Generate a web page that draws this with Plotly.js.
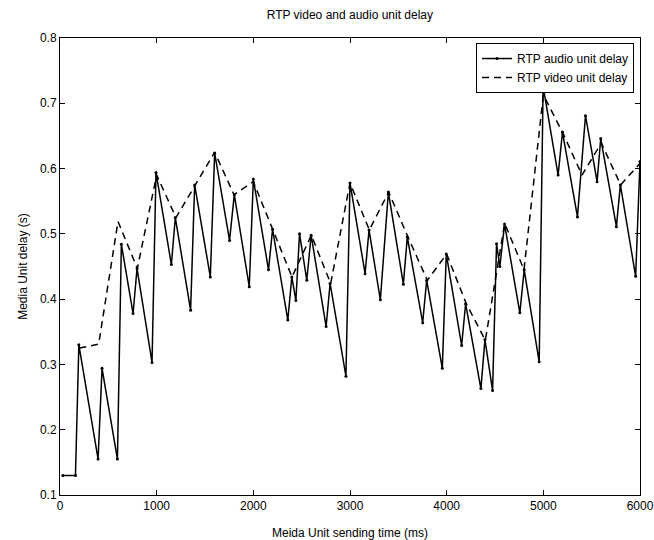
<!DOCTYPE html>
<html>
<head>
<meta charset="utf-8">
<script src="https://cdn.plot.ly/plotly-3.0.1.min.js"></script>
<style>html,body{margin:0;padding:0;background:#fff;}#chart{width:654px;height:540px;}</style>
</head>
<body>
<div id="chart"></div>
<script>
var audioTime = [30, 160, 195, 394, 435, 594, 635, 756, 797, 952, 993, 1152, 1193, 1351, 1393, 1555, 1600, 1754, 1803, 1958, 2000, 2157, 2199, 2357, 2398, 2440, 2478, 2553, 2598, 2753, 2794, 2958, 3000, 3156, 3197, 3314, 3397, 3552, 3593, 3752, 3793, 3955, 3996, 4155, 4196, 4354, 4396, 4475, 4516, 4550, 4599, 4757, 4802, 4957, 4998, 5153, 5198, 5353, 5436, 5556, 5594, 5756, 5797, 5955, 6000];
var audioDelay = [0.13, 0.13, 0.330, 0.155, 0.294, 0.155, 0.484, 0.378, 0.447, 0.303, 0.594, 0.453, 0.525, 0.383, 0.575, 0.434, 0.624, 0.490, 0.560, 0.419, 0.584, 0.445, 0.507, 0.368, 0.434, 0.398, 0.500, 0.429, 0.498, 0.358, 0.424, 0.282, 0.578, 0.439, 0.506, 0.399, 0.564, 0.423, 0.495, 0.364, 0.429, 0.294, 0.469, 0.329, 0.393, 0.263, 0.338, 0.260, 0.485, 0.450, 0.515, 0.379, 0.445, 0.304, 0.726, 0.590, 0.656, 0.526, 0.681, 0.580, 0.646, 0.511, 0.575, 0.435, 0.611];
var videoTime = [200, 400, 600, 800, 1000, 1200, 1400, 1600, 1800, 2000, 2200, 2400, 2600, 2800, 3000, 3200, 3400, 3600, 3800, 4000, 4200, 4400, 4600, 4800, 5000, 5200, 5400, 5600, 5800, 6000];
var videoDelay = [0.325, 0.331, 0.519, 0.447, 0.590, 0.525, 0.575, 0.625, 0.560, 0.580, 0.507, 0.434, 0.498, 0.424, 0.578, 0.506, 0.564, 0.495, 0.429, 0.469, 0.394, 0.337, 0.516, 0.445, 0.713, 0.655, 0.590, 0.639, 0.575, 0.608];
var xTicks = [0, 1000, 2000, 3000, 4000, 5000, 6000];
var yTicks = [0.1, 0.2, 0.3, 0.4, 0.5, 0.6, 0.7, 0.8];
var seriesNames = ['RTP audio unit delay', 'RTP video unit delay'];
var titleText = 'RTP video and audio unit delay';
var xTitle = 'Meida Unit sending time (ms)';
var yTitle = 'Media Unit delay (s)';

var FONT = 'Liberation Sans, Arial, Helvetica, sans-serif';
var traces = [
  {x: audioTime, y: audioDelay, name: seriesNames[0], type: 'scatter', mode: 'lines+markers',
   line: {color: '#000', width: 1.5}, marker: {color: '#000', size: 3}},
  {x: videoTime, y: videoDelay, name: seriesNames[1], type: 'scatter', mode: 'lines',
   line: {color: '#000', width: 1.5, dash: '7px,5px'}}
];
var axisCommon = {
  showgrid: false, zeroline: false, showline: true, linecolor: '#000', linewidth: 1,
  mirror: 'ticks', ticks: 'inside', ticklen: 5, tickcolor: '#000',
  tickfont: {family: FONT, size: 12, color: '#000'}
};
var layout = {
  width: 654, height: 540, autosize: false,
  margin: {l: 60, r: 14, t: 38, b: 45, pad: 0},
  paper_bgcolor: '#fff', plot_bgcolor: '#fff',
  font: {family: FONT, size: 12, color: '#000'},
  title: {text: titleText, font: {family: FONT, size: 12, color: '#000'},
          x: 0.535, xref: 'container', xanchor: 'center', y: 1 - 15/540, yref: 'container', yanchor: 'middle'},
  xaxis: Object.assign({}, axisCommon, {range: [0, 6000], tickvals: xTicks, ticktext: xTicks.map(String),
    title: {text: xTitle, font: {family: FONT, size: 12, color: '#000'}, standoff: 16}}),
  yaxis: Object.assign({}, axisCommon, {range: [0.1, 0.8], tickvals: yTicks, ticktext: yTicks.map(function(v){return v.toFixed(1);}),
    title: {text: yTitle, font: {family: FONT, size: 12, color: '#000'}, standoff: 9}}),
  showlegend: true,
  legend: {x: 0.9897, xanchor: 'right', y: 0.989, yanchor: 'top', bgcolor: '#fff',
    bordercolor: '#000', borderwidth: 1, font: {family: FONT, size: 12, color: '#000'},
    itemwidth: 30, tracegroupgap: 0}
};
Plotly.newPlot('chart', traces, layout, {displayModeBar: false, staticPlot: true});
</script>
</body>
</html>
